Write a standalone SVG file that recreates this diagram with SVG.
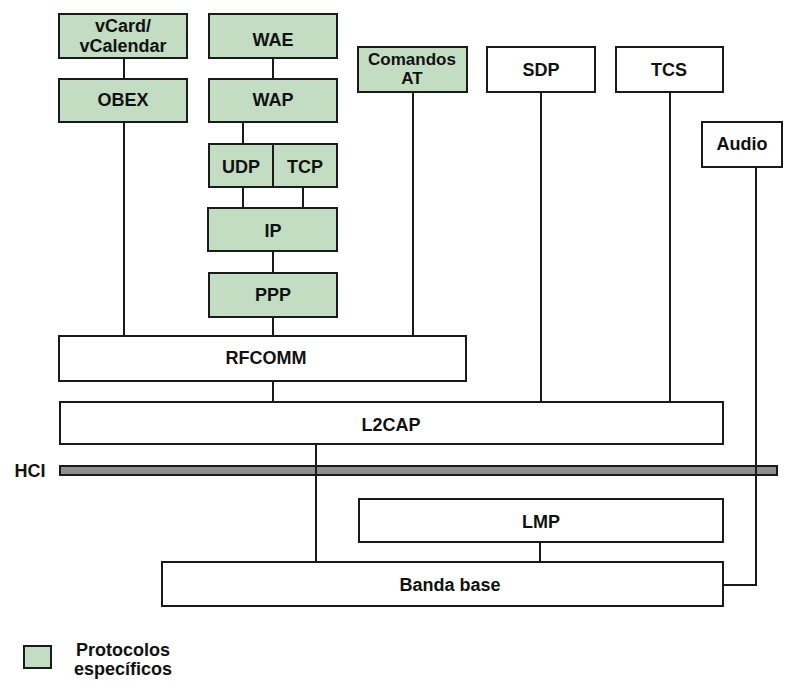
<svg xmlns="http://www.w3.org/2000/svg" width="798" height="683" viewBox="0 0 798 683">
<style>
.g{fill:#c2ddc2;stroke:#1a1a1a;stroke-width:2}
.w{fill:#ffffff;stroke:#1a1a1a;stroke-width:2}
.t{font-family:"Liberation Sans",Arial,sans-serif;font-weight:bold;font-size:18px;fill:#111;text-anchor:middle}
.s{font-size:17px}
.c{stroke:#1a1a1a;stroke-width:2;fill:none}
</style>
<rect width="798" height="683" fill="#ffffff"/>
<g id="hci">
<rect x="60" y="466" width="717" height="9" fill="#8f8f8f" stroke="#1a1a1a" stroke-width="2"/>
<text class="t" x="30" y="477">HCI</text>
</g>
<g id="connectors">
<line class="c" x1="124" y1="58" x2="124" y2="79"/>
<line class="c" x1="124" y1="122" x2="124" y2="336"/>
<line class="c" x1="273" y1="58" x2="273" y2="79"/>
<line class="c" x1="243" y1="122" x2="243" y2="144"/>
<line class="c" x1="243" y1="187" x2="243" y2="208"/>
<line class="c" x1="303" y1="187" x2="303" y2="208"/>
<line class="c" x1="273" y1="251" x2="273" y2="273"/>
<line class="c" x1="273" y1="317" x2="273" y2="336"/>
<line class="c" x1="413" y1="92" x2="413" y2="336"/>
<line class="c" x1="273" y1="381" x2="273" y2="402"/>
<line class="c" x1="541" y1="92" x2="541" y2="402"/>
<line class="c" x1="670" y1="92" x2="670" y2="402"/>
<line class="c" x1="316" y1="444" x2="316" y2="562"/>
<line class="c" x1="540" y1="542" x2="540" y2="562"/>
<polyline class="c" points="756,167 756,585 723,585"/>
</g>
<g id="vcard"><rect class="g" x="59" y="14" width="128" height="44"/><text class="t" x="123" y="32">vCard/</text><text class="t" x="123" y="52">vCalendar</text></g>
<g id="obex"><rect class="g" x="59" y="79" width="128" height="43"/><text class="t" x="123" y="106">OBEX</text></g>
<g id="wae"><rect class="g" x="209" y="14" width="128" height="44"/><text class="t" x="273" y="46">WAE</text></g>
<g id="wap"><rect class="g" x="209" y="79" width="128" height="43"/><text class="t" x="273" y="106">WAP</text></g>
<g id="udp"><rect class="g" x="209" y="144" width="64" height="43"/><text class="t" x="241" y="173">UDP</text></g>
<g id="tcp"><rect class="g" x="273" y="144" width="64" height="43"/><text class="t" x="305" y="173">TCP</text></g>
<g id="ip"><rect class="g" x="208" y="208" width="129" height="43"/><text class="t" x="273" y="237">IP</text></g>
<g id="ppp"><rect class="g" x="209" y="273" width="128" height="44"/><text class="t" x="273" y="301">PPP</text></g>
<g id="comandos"><rect class="g" x="358" y="47" width="109" height="45"/><text class="t s" x="412" y="65">Comandos</text><text class="t s" x="412" y="84">AT</text></g>
<g id="sdp"><rect class="w" x="487" y="47" width="108" height="45"/><text class="t" x="541" y="76">SDP</text></g>
<g id="tcs"><rect class="w" x="616" y="47" width="107" height="45"/><text class="t" x="669" y="76">TCS</text></g>
<g id="audio"><rect class="w" x="702" y="122" width="80" height="45"/><text class="t" x="742" y="150">Audio</text></g>
<g id="rfcomm"><rect class="w" x="59" y="336" width="407" height="45"/><text class="t" x="266" y="364">RFCOMM</text></g>
<g id="l2cap"><rect class="w" x="60" y="402" width="663" height="42"/><text class="t" x="391" y="431">L2CAP</text></g>
<g id="lmp"><rect class="w" x="359" y="499" width="364" height="43"/><text class="t" x="541" y="528">LMP</text></g>
<g id="banda"><rect class="w" x="162" y="562" width="561" height="44"/><text class="t" x="450" y="591">Banda base</text></g>
<g id="legend"><rect class="g" x="24" y="646" width="27" height="22"/><text class="t" x="123" y="656">Protocolos</text><text class="t" x="123" y="675">específicos</text></g>
</svg>
